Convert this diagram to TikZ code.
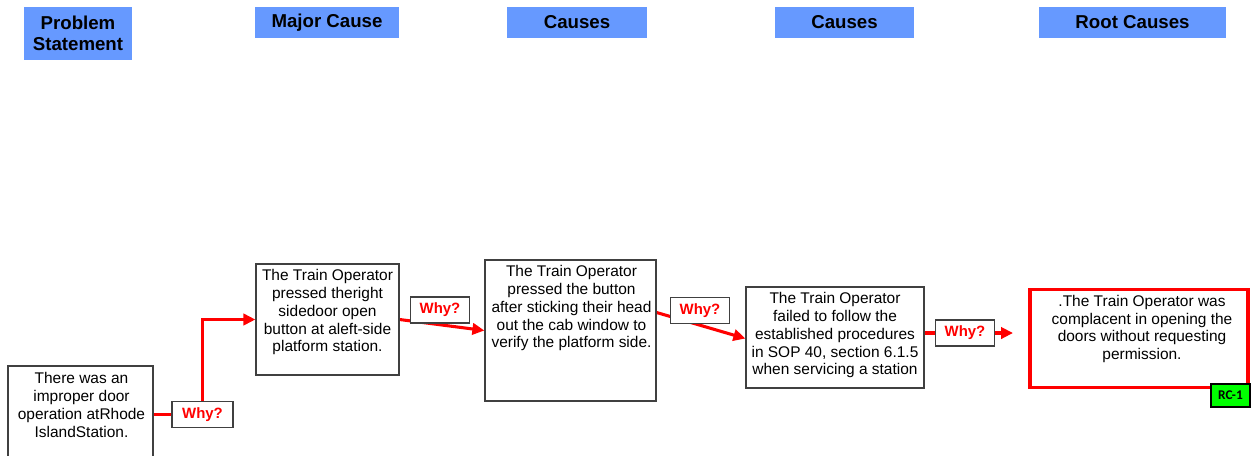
\documentclass[tikz,border=0pt]{standalone}
\usepackage{fontspec}
\setmainfont{Liberation Sans}
\newfontfamily\rcfont{Carlito}
\usetikzlibrary{arrows.meta,calc,backgrounds}
\definecolor{hdrblue}{HTML}{6699FF}
\definecolor{boxgray}{HTML}{404040}
\definecolor{rcgreen}{HTML}{00FF00}
\tikzset{
  hdr/.style={fill=hdrblue, draw=none, inner sep=0pt, font=\fontsize{14}{15.5}\selectfont\bfseries, align=center},
  cbox/.style={draw=boxgray, line width=0.9pt, fill=white, inner sep=0pt},
  ctext/.style={anchor=north, inner sep=0pt, align=center, font=\fontsize{11.6}{13.3}\selectfont},
  whybox/.style={draw=boxgray, line width=0.9pt, fill=white, inner sep=0pt, minimum width=44pt, minimum height=19.5pt, text=red, font=\fontsize{11.2}{12}\selectfont\bfseries},
  conn/.style={draw=red, line width=2.3pt},
  tip/.style={-{Triangle[length=9pt,width=8.5pt]}},
}
\begin{document}
\begin{tikzpicture}[x=0.75pt,y=-0.75pt]
\useasboundingbox (0,0) rectangle (1251,455);
\clip (0,0) rectangle (1251,455);
% headers
\node[hdr, minimum width=81pt, minimum height=39.75pt] (h1) at (78,33.5) {Problem\\Statement};
\node[hdr, minimum width=108pt, minimum height=23.25pt] (h2) at (327,22.5) {Major Cause};
\node[hdr, minimum width=105pt, minimum height=23.25pt] (h3) at (577,22.5) {Causes};
\node[hdr, minimum width=104.25pt, minimum height=23.25pt] (h4) at (844.5,22.5) {Causes};
\node[hdr, minimum width=140.25pt, minimum height=23.25pt] (h5) at (1132.5,22.5) {Root Causes};
% boxes
\node[cbox, minimum width=108.75pt, minimum height=90pt] (b1) at (80.5,426) {};
\node[ctext] (t1) at ($(b1.north)+(1,7)$) {There was an\\improper door\\operation atRhode\\IslandStation.};
\node[cbox, minimum width=107.25pt, minimum height=83.25pt] (b2) at (327.5,319.5) {};
\node[ctext] (t2) at ($(b2.north)+(0,6)$) {The Train Operator\\pressed theright\\sidedoor open\\button at aleft-side\\platform station.};
\node[cbox, minimum width=128.25pt, minimum height=105.75pt] (b3) at (570.5,330.5) {};
\node[ctext] (t3) at ($(b3.north)+(1,6)$) {The Train Operator\\pressed the button\\after sticking their head\\out the cab window to\\verify the platform side.};
\node[cbox, minimum width=133.5pt, minimum height=75.75pt] (b4) at (835,337.5) {};
\node[ctext] (t4) at ($(b4.north)+(0,6)$) {The Train Operator\\failed to follow the\\established procedures\\in SOP 40, section 6.1.5\\when servicing a station};
\node[draw=red, line width=2.4pt, fill=white, inner sep=0pt, minimum width=163.5pt, minimum height=73.5pt] (b5) at (1139,338.5) {};
\node[ctext] (t5) at ($(b5.north)+(3,7)$) {.The Train Operator was\\complacent in opening the\\doors without requesting\\permission.};
\node[draw=black, line width=1.1pt, fill=rcgreen, inner sep=0pt, minimum width=29.25pt, minimum height=17.25pt, font=\rcfont\fontsize{10}{11}\selectfont\bfseries] (rc) at (1230.5,395.5) {RC-1};
% why boxes
\node[whybox, minimum width=45.75pt] (w1) at (202.5,414.5) {Why?};
\node[whybox] (w2) at (440,310) {Why?};
\node[whybox] (w3) at (700,310.5) {Why?};
\node[whybox] (w4) at (965,333) {Why?};
\coordinate (e4) at (1013,333);
% connectors
\begin{scope}[on background layer]
\draw[conn] (b1.east |- w1.west) -- (w1.west);
\draw[conn, tip] (w1.north) |- (b2.west);
\draw[conn, tip] (b2.east) -- (b3.west);
\draw[conn, tip] ($(b3.east)+(0,-18)$) -- ($(b4.west)+(0,1)$);
\draw[conn] (b4.east |- w4.west) -- (w4.west);
\draw[conn, tip] (w4.east) -- (e4);
\end{scope}
\end{tikzpicture}
\end{document}
